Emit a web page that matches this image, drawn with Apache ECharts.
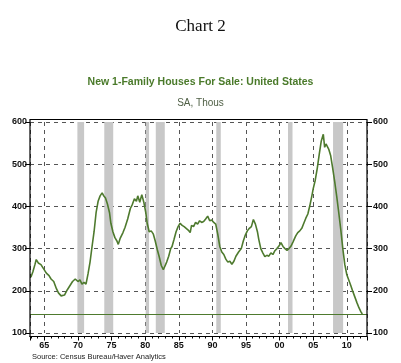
<!DOCTYPE html>
<html><head><meta charset="utf-8">
<script src="https://cdn.jsdelivr.net/npm/echarts@6/dist/echarts.min.js"></script>
<style>html,body{margin:0;padding:0;background:#fff;}#c{width:401px;height:363px;}</style>
</head><body><div id="c"></div>
<script>
const years = [1963.0,1963.3,1963.6,1963.8,1964.1,1964.5,1964.9,1965.3,1965.7,1966.0,1966.4,1966.8,1967.1,1967.5,1967.7,1968.0,1968.4,1968.8,1969.2,1969.6,1970.0,1970.3,1970.6,1970.9,1971.2,1971.5,1971.8,1972.1,1972.4,1972.7,1973.0,1973.3,1973.6,1973.8,1974.1,1974.4,1974.7,1974.9,1975.2,1975.5,1975.8,1976.0,1976.3,1976.7,1977.0,1977.4,1977.8,1978.1,1978.4,1978.7,1978.9,1979.2,1979.5,1979.8,1980.1,1980.3,1980.6,1980.9,1981.2,1981.5,1981.8,1982.1,1982.4,1982.7,1982.9,1983.2,1983.5,1983.8,1984.0,1984.3,1984.6,1984.9,1985.2,1985.5,1985.8,1986.1,1986.4,1986.7,1986.9,1987.2,1987.5,1987.8,1988.1,1988.4,1988.7,1989.0,1989.3,1989.6,1989.9,1990.2,1990.5,1990.8,1991.1,1991.4,1991.7,1992.0,1992.3,1992.6,1992.9,1993.2,1993.5,1993.9,1994.3,1994.6,1994.9,1995.2,1995.5,1995.8,1996.1,1996.4,1996.7,1996.9,1997.2,1997.5,1997.8,1998.1,1998.4,1998.7,1999.0,1999.3,1999.6,1999.9,2000.2,2000.5,2000.8,2001.1,2001.4,2001.7,2002.0,2002.4,2002.7,2003.0,2003.3,2003.6,2003.9,2004.2,2004.5,2004.8,2005.0,2005.3,2005.6,2005.9,2006.2,2006.5,2006.7,2006.9,2007.1,2007.3,2007.6,2007.9,2008.2,2008.5,2008.8,2009.1,2009.4,2009.7,2010.0,2010.3,2010.6,2010.9,2011.2,2011.5,2011.8,2012.1,2012.3];
const housesForSale = [232,245,262,274,266,262,252,242,236,228,222,205,195,188,184,190,202,212,222,228,222,226,216,220,216,240,268,305,340,385,412,425,432,426,420,405,385,360,340,326,318,310,325,338,350,370,395,405,418,412,425,410,428,410,385,360,340,342,335,318,298,280,260,250,252,268,282,300,305,322,340,352,360,355,352,348,344,338,355,352,362,358,366,362,364,370,377,366,368,362,358,334,305,292,286,275,268,270,263,270,282,292,300,318,332,342,348,352,369,358,340,322,300,290,281,284,282,290,286,295,300,306,314,305,300,296,300,306,316,330,338,342,348,360,372,382,402,425,442,462,490,524,555,571,540,548,544,536,520,490,458,423,385,345,300,262,238,225,212,198,185,172,160,150,145];
const recessions = [[1969.92,1970.92],[1973.92,1975.25],[1980.08,1980.58],[1981.58,1982.92],[1990.58,1991.25],[2001.25,2001.92],[2007.95,2009.45]];
const latestLevel = 145;
const yTicks = [100,200,300,400,500,600];

const chart = echarts.init(document.getElementById('c'), null, {renderer:'canvas'});
const green = '#4e7a2e';
const labelFont = {fontFamily:'Liberation Sans, Arial', fontSize:9, fontWeight:'bold', color:'#111'};
chart.setOption({
  animation:false,
  backgroundColor:'#fff',
  title:[
    {text:'Chart 2', left:'center', top:13, textStyle:{fontFamily:'Liberation Serif, Times New Roman', fontSize:17, fontWeight:'normal', color:'#111'}},
    {text:'New 1-Family Houses For Sale: United States', left:'center', top:72, textStyle:{fontFamily:'Liberation Sans, Arial', fontSize:10.5, fontWeight:'bold', color:'#4a7a2a'}},
    {text:'SA, Thous', left:'center', top:93, textStyle:{fontFamily:'Liberation Sans, Arial', fontSize:10, fontWeight:'normal', color:'#4f5f45'}},
    {text:'Source: Census Bureau/Haver Analytics', left:27, top:348, textStyle:{fontFamily:'Liberation Sans, Arial', fontSize:7.5, fontWeight:'normal', color:'#222'}}
  ],
  grid:{left:30, right:34, top:122, bottom:30, containLabel:false},
  graphic:[{type:'rect', shape:{x:30, y:119.5, width:337, height:217}, style:{fill:'none', stroke:'#000', lineWidth:1.2}, z:100, silent:true}],
  xAxis:{type:'value', min:1962.87, max:2013, splitNumber:10, offset:3.5,
    axisLine:{show:true, lineStyle:{color:'#000', width:1.2}},
    axisTick:{show:true, length:4, lineStyle:{color:'#000'}},
    minorTick:{show:true, splitNumber:5, length:2, lineStyle:{color:'#000'}},
    axisLabel:Object.assign({margin:5, showMinLabel:false, showMaxLabel:false, formatter:v=>String(Math.round(v)%100).padStart(2,'0')}, labelFont),
    splitLine:{show:true, lineStyle:{color:'#555', type:[4,4], width:1}}
  },
  yAxis:[
    {type:'value', min:100, max:600, interval:100, position:'left',
      axisLine:{show:false}, axisTick:{show:true, length:5, lineStyle:{color:'#000'}},
      axisLabel:Object.assign({margin:3}, labelFont),
      splitLine:{show:true, lineStyle:{color:'#555', type:[4,4], width:1}}},
    {type:'value', min:100, max:600, interval:100, position:'right',
      axisLine:{show:false}, axisTick:{show:true, length:5, lineStyle:{color:'#000'}},
      axisLabel:Object.assign({margin:6}, labelFont),
      splitLine:{show:false}}
  ],
  series:[{
    type:'line', data:years.map((y,i)=>[y,housesForSale[i]]), showSymbol:false, smooth:false,
    lineStyle:{color:green, width:1.6}, z:5,
    markArea:{silent:true, itemStyle:{color:'#c8c8c8'}, z:1,
      data:recessions.map(r=>[{xAxis:r[0]},{xAxis:r[1]}])},
    markLine:{silent:true, symbol:'none', label:{show:false}, lineStyle:{color:green, type:'solid', width:1.2},
      data:[{yAxis:latestLevel}]}
  }]
});
</script></body></html>
